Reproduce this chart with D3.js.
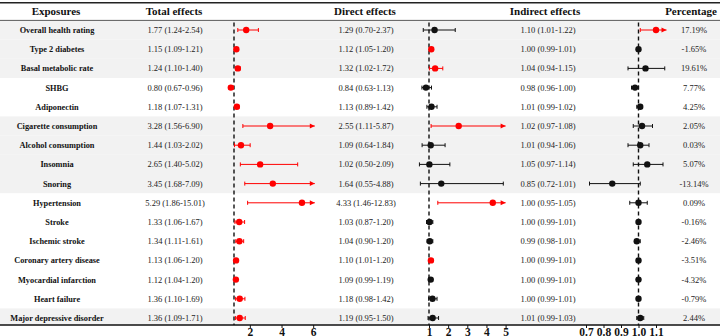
<!DOCTYPE html>
<html>
<head>
<meta charset="utf-8">
<script src="https://cdn.jsdelivr.net/npm/d3@7"></script>
<style>
  body { margin: 0; background: #fff; }
  svg { display: block; font-family: "Liberation Serif", "Times New Roman", serif; }
</style>
</head>
<body>
<script>
// data
var exposures = ["Overall health rating", "Type 2 diabetes", "Basal metabolic rate", "SHBG", "Adiponectin",
  "Cigarette consumption", "Alcohol consumption", "Insomnia", "Snoring", "Hypertension", "Stroke",
  "Ischemic stroke", "Coronary artery disease", "Myocardial infarction", "Heart failure", "Major depressive disorder"];

var totalEst = [1.77, 1.15, 1.24, 0.80, 1.18, 3.28, 1.44, 2.65, 3.45, 5.29, 1.33, 1.34, 1.13, 1.12, 1.36, 1.36];
var totalLo  = [1.24, 1.09, 1.10, 0.67, 1.07, 1.56, 1.03, 1.40, 1.68, 1.86, 1.06, 1.11, 1.06, 1.04, 1.10, 1.09];
var totalHi  = [2.54, 1.21, 1.40, 0.96, 1.31, 6.90, 2.02, 5.02, 7.09, 15.01, 1.67, 1.61, 1.20, 1.20, 1.69, 1.71];

var directEst = [1.29, 1.12, 1.32, 0.84, 1.13, 2.55, 1.09, 1.02, 1.64, 4.33, 1.03, 1.04, 1.10, 1.09, 1.18, 1.19];
var directLo  = [0.70, 1.05, 1.02, 0.63, 0.89, 1.11, 0.64, 0.50, 0.55, 1.46, 0.87, 0.90, 1.01, 0.99, 0.98, 0.95];
var directHi  = [2.37, 1.20, 1.72, 1.13, 1.42, 5.87, 1.84, 2.09, 4.88, 12.83, 1.20, 1.20, 1.20, 1.19, 1.42, 1.50];

var indirectEst = [1.10, 1.00, 1.04, 0.98, 1.01, 1.02, 1.01, 1.05, 0.85, 1.00, 1.00, 0.99, 1.00, 1.00, 1.00, 1.01];
var indirectLo  = [1.01, 0.99, 0.94, 0.96, 0.99, 0.97, 0.94, 0.97, 0.72, 0.95, 0.99, 0.98, 0.99, 0.99, 0.99, 0.99];
var indirectHi  = [1.22, 1.01, 1.15, 1.00, 1.02, 1.08, 1.06, 1.14, 1.01, 1.05, 1.01, 1.01, 1.01, 1.01, 1.01, 1.03];

var percentage = ["17.19%", "-1.65%", "19.61%", "7.77%", "4.25%", "2.05%", "0.03%", "5.07%", "-13.14%",
  "0.09%", "-0.16%", "-2.46%", "-3.51%", "-4.32%", "-0.79%", "2.44%"];

// exposure groups drawn on a grey band
var shaded = ["Overall health rating", "Type 2 diabetes", "Basal metabolic rate", "Cigarette consumption",
  "Alcohol consumption", "Insomnia", "Snoring", "Major depressive disorder"];

var totalTicks = [2, 4, 6];
var directTicks = [1, 2, 3, 4, 5];
var indirectTicks = [0.7, 0.8, 0.9, 1.0, 1.1];

var width = 720, height = 336;
var headerY = 20.4, axisY = 325;

var svg = d3.select("body").append("svg")
  .attr("width", width)
  .attr("height", height);

// rows
var y = d3.scaleBand().domain(exposures).range([headerY, headerY + 19.2 * exposures.length]);

// one scale per panel
var xTotal = d3.scaleLinear().domain([1, 6]).range([234, 313.2]);
var xDirect = d3.scaleLinear().domain([1, 5]).range([429, 505.6]);
var xIndirect = d3.scaleLinear().domain([0.7, 1.1]).range([586, 656]);

// grey bands
svg.selectAll("rect.band")
  .data(shaded)
  .enter().append("rect")
  .attr("class", "band")
  .attr("x", 0)
  .attr("width", width)
  .attr("y", function (d) { return y(d); })
  .attr("height", function (d) { return Math.min(y.bandwidth(), axisY - y(d)); })
  .attr("fill", "#f2f2f2");

// table rules
svg.append("line").attr("x1", 0).attr("x2", width).attr("y1", 2.8).attr("y2", 2.8)
  .attr("stroke", "#222").attr("stroke-width", 1.6);
svg.append("line").attr("x1", 0).attr("x2", width).attr("y1", headerY).attr("y2", headerY)
  .attr("stroke", "#333").attr("stroke-width", 0.8);

// headers
var headers = [["Exposures", 56], ["Total effects", 174], ["Direct effects", 365], ["Indirect effects", 545], ["Percentage", 691]];
svg.selectAll("text.head")
  .data(headers)
  .enter().append("text")
  .attr("class", "head")
  .attr("x", function (d) { return d[1]; })
  .attr("y", 15)
  .attr("text-anchor", "middle")
  .attr("font-size", "11px")
  .attr("font-weight", "bold")
  .attr("fill", "#111")
  .text(function (d) { return d[0]; });

function cy(i) { return y(exposures[i]) + y.bandwidth() / 2; }

// exposure names
svg.selectAll("text.expo")
  .data(exposures)
  .enter().append("text")
  .attr("x", 57)
  .attr("y", function (d, i) { return cy(i) + 3; })
  .attr("text-anchor", "middle")
  .attr("font-size", "8.3px")
  .attr("font-weight", "bold")
  .attr("fill", "#111")
  .text(function (d) { return d; });

function label(est, lo, hi, i) {
  return est[i].toFixed(2) + " (" + lo[i].toFixed(2) + "-" + hi[i].toFixed(2) + ")";
}

function textColumn(est, lo, hi, cx) {
  svg.append("g").selectAll("text")
    .data(exposures)
    .enter().append("text")
    .attr("x", cx)
    .attr("y", function (d, i) { return cy(i) + 3; })
    .attr("text-anchor", "middle")
    .attr("font-size", "8.5px")
    .attr("fill", "#222")
    .text(function (d, i) { return label(est, lo, hi, i); });
}
textColumn(totalEst, totalLo, totalHi, 175);
textColumn(directEst, directLo, directHi, 366);
textColumn(indirectEst, indirectLo, indirectHi, 548);

svg.append("g").selectAll("text")
  .data(percentage)
  .enter().append("text")
  .attr("x", 694)
  .attr("y", function (d, i) { return cy(i) + 3; })
  .attr("text-anchor", "middle")
  .attr("font-size", "8.5px")
  .attr("fill", "#222")
  .text(function (d) { return d; });

// forest panel: reference line, error bars with caps/arrows, points
function forest(x, est, lo, hi, maxV, ticks, fmt) {
  var g = svg.append("g");
  g.append("line")
    .attr("x1", x(1)).attr("x2", x(1))
    .attr("y1", headerY + 2).attr("y2", axisY)
    .attr("stroke", "#111").attr("stroke-width", 1.4)
    .attr("stroke-dasharray", "4,3");

  exposures.forEach(function (d, i) {
    var col = (lo[i] > 1 || hi[i] < 1) ? "#ff0000" : "#111";
    var yy = cy(i);
    var clipped = hi[i] > maxV;
    var x1 = x(lo[i]), x2 = x(Math.min(hi[i], maxV));
    g.append("line").attr("x1", x1).attr("x2", x2).attr("y1", yy).attr("y2", yy)
      .attr("stroke", col).attr("stroke-width", 1);
    g.append("line").attr("x1", x1).attr("x2", x1).attr("y1", yy - 2).attr("y2", yy + 2)
      .attr("stroke", col).attr("stroke-width", 1);
    if (clipped) {
      g.append("path")
        .attr("d", "M" + x2 + "," + yy + "L" + (x2 - 5) + "," + (yy - 2.5) + "L" + (x2 - 5) + "," + (yy + 2.5) + "Z")
        .attr("fill", col);
    } else {
      g.append("line").attr("x1", x2).attr("x2", x2).attr("y1", yy - 2).attr("y2", yy + 2)
        .attr("stroke", col).attr("stroke-width", 1);
    }
    g.append("circle").attr("cx", x(est[i])).attr("cy", yy).attr("r", 3.2).attr("fill", col);
  });

  var ax = g.append("g")
    .attr("transform", "translate(0," + axisY + ")")
    .call(d3.axisBottom(x).tickValues(ticks).tickFormat(fmt).tickSize(3));
  ax.select(".domain").remove();
  ax.selectAll("text")
    .attr("y", 2.5)
    .attr("font-family", "Liberation Serif, Times New Roman, serif")
    .attr("font-size", "11.5px")
    .attr("font-weight", "bold")
    .attr("fill", "#111");
  ax.selectAll("line").attr("stroke", "#111");
}

forest(xTotal, totalEst, totalLo, totalHi, 6.1, totalTicks, d3.format("d"));
forest(xDirect, directEst, directLo, directHi, 5.0, directTicks, d3.format("d"));
forest(xIndirect, indirectEst, indirectLo, indirectHi, 1.16, indirectTicks, d3.format(".1f"));

// bottom rule / axis line
svg.append("line").attr("x1", 0).attr("x2", width).attr("y1", axisY).attr("y2", axisY)
  .attr("stroke", "#111").attr("stroke-width", 1.3);
</script>
</body>
</html>
